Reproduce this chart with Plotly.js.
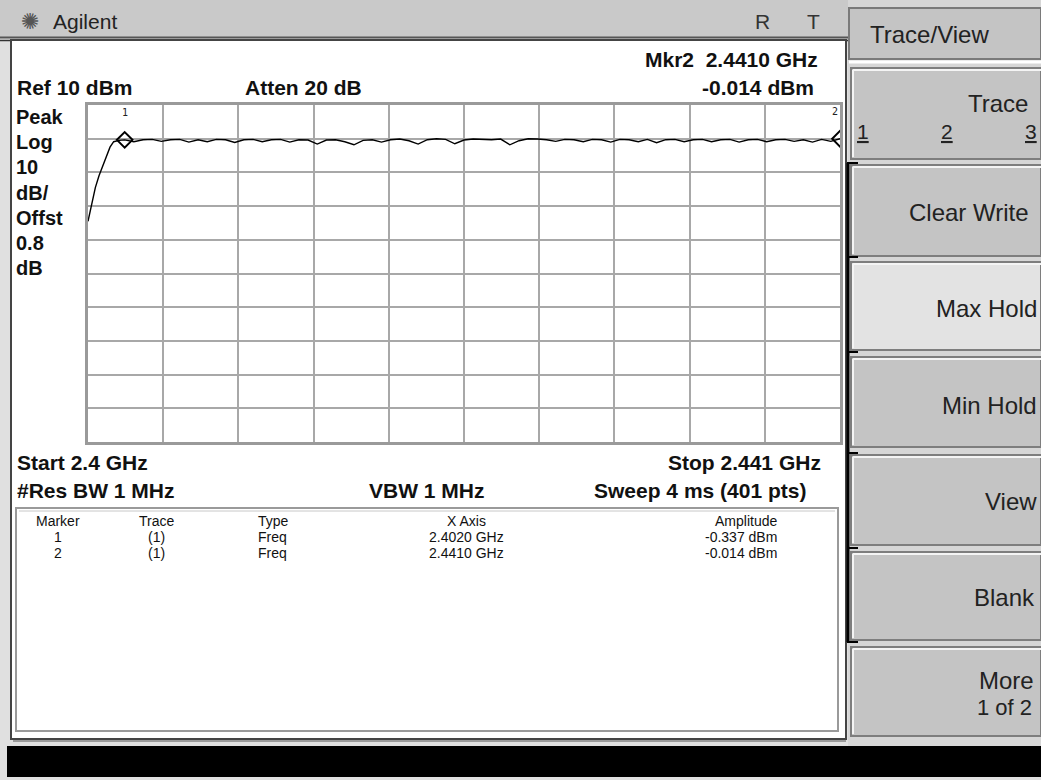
<!DOCTYPE html>
<html>
<head>
<meta charset="utf-8">
<script src="https://cdn.plot.ly/plotly-3.0.1.min.js"></script>
<style>
html,body{margin:0;padding:0;background:#e0e0e0;}
#chart{width:1041px;height:780px;}
</style>
</head>
<body>
<div id="chart"></div>
<script>
const freqGHz = [
  2.4000, 2.4002, 2.4004, 2.4006, 2.4008, 2.4010, 2.4012, 2.4014, 2.4017, 2.4020,
  2.4025, 2.4030, 2.4035, 2.4040, 2.4045, 2.4050, 2.4055, 2.4060, 2.4065, 2.4070,
  2.4075, 2.4080, 2.4085, 2.4090, 2.4095, 2.4100, 2.4105, 2.4110, 2.4115, 2.4120,
  2.4125, 2.4130, 2.4135, 2.4140, 2.4145, 2.4150, 2.4155, 2.4160, 2.4165, 2.4170,
  2.4175, 2.4180, 2.4185, 2.4190, 2.4195, 2.4200, 2.4205, 2.4210, 2.4215, 2.4220,
  2.4225, 2.4230, 2.4235, 2.4240, 2.4245, 2.4250, 2.4255, 2.4260, 2.4265, 2.4270,
  2.4275, 2.4280, 2.4285, 2.4290, 2.4295, 2.4300, 2.4305, 2.4310, 2.4315, 2.4320,
  2.4325, 2.4330, 2.4335, 2.4340, 2.4345, 2.4350, 2.4355, 2.4360, 2.4365, 2.4370,
  2.4375, 2.4380, 2.4385, 2.4390, 2.4395, 2.4400, 2.4405, 2.4410
];
const ampDbm = [
  -24.5, -19.0, -14.5, -11.0, -8.0, -5.0, -2.5, -0.9, -0.5, -0.337,
  -0.9, -0.3, -0.2, -0.8, -0.3, -0.2, -1.0, -0.3, -0.9, -0.2,
  -0.3, -1.1, -0.3, -0.2, -0.9, -0.3, -0.2, -1.0, -0.3, -0.4,
  -1.6, -0.4, -0.3, -0.9, -1.8, -0.5, -0.3, -1.0, -0.3, -0.1,
  -0.6, -1.6, -0.3, 0.0, -0.2, -1.5, -0.4, -0.1, -0.2, -0.3,
  -0.1, -1.8, -0.6, 0.0, -0.1, -0.3, -0.8, -0.2, -0.3, -0.9,
  -0.2, -0.3, -1.0, -0.2, -0.3, -0.9, -0.2, -1.2, -0.3, -0.2,
  -0.9, -0.3, -0.2, -0.9, -0.3, -0.2, -1.0, -0.3, -0.2, -0.9,
  -0.3, -0.2, -0.8, -0.3, -1.0, -0.2, -0.8, -0.014
];
const markerIds = ['1', '2'];
const markerFreq = [2.4020, 2.4410];
const markerAmp = [-0.337, -0.014];
const markerTrace = ['(1)', '(1)'];
const markerType = ['Freq', 'Freq'];
const markerXText = ['2.4020 GHz', '2.4410 GHz'];
const markerAmpText = ['-0.337 dBm', '-0.014 dBm'];
const startGHz = 2.4, stopGHz = 2.441;
const refLevel = 10, dbPerDiv = 10, divisions = 10;
const leftLabels = ['Peak', 'Log', '10', 'dB/', 'Offst', '0.8', 'dB'];
const softkeys = ['Clear Write', 'Max Hold', 'Min Hold', 'View', 'Blank'];

// ---- layout helpers (pixel -> paper) ----
const L = 88, R = 840, T = 105, B = 442, W = R - L, H = B - T;
const px = v => (v - L) / W;
const py = v => (B - v) / H;

const shapes = [];
const ann = [];
function rect(x0, y0, x1, y1, fill, line, lw, layer) {
  shapes.push({type: 'rect', xref: 'paper', yref: 'paper', x0: px(x0), x1: px(x1), y0: py(y1), y1: py(y0),
    fillcolor: fill, line: {color: line || 'rgba(0,0,0,0)', width: lw || 0}, layer: layer || 'below'});
}
function line(x0, y0, x1, y1, color, w) {
  shapes.push({type: 'line', xref: 'paper', yref: 'paper', x0: px(x0), x1: px(x1), y0: py(y0), y1: py(y1),
    line: {color: color, width: w}, layer: 'below'});
}
function text(t, x, y, opts) {
  opts = opts || {};
  ann.push({text: t, xref: 'paper', yref: 'paper', x: px(x), y: py(y), showarrow: false,
    xanchor: opts.xa || 'left', yanchor: 'middle',
    font: {family: opts.fam || 'Liberation Sans, Arial, sans-serif', size: opts.size || 16, color: opts.color || '#111'}});
}
const BOLDF = 'Liberation Sans, Arial, sans-serif';
const SKF = 'Liberation Sans, Arial, sans-serif';
const BS = 21;   // bold status text size
const SK = 24;   // softkey text size

// outer title bar
rect(0, 0, 848, 37, '#c9c9c9');
line(0, 37.5, 848, 37.5, '#555', 2);
line(0, 40.5, 848, 40.5, '#333', 1.5);
// main white panel
rect(11, 40, 846, 739, '#ffffff', '#444', 2);
line(13, 741, 846, 741, '#9a9a9a', 2);
// marker table box
rect(16, 508, 838, 731, '#ffffff', '#9a9a9a', 2);
line(19, 511, 835, 511, '#c8c8c8', 1);
// bottom black status bar
rect(7, 746, 1041, 777, '#000000');

// softkey panel
rect(848, 0, 1041, 746, '#d6d6d6');
rect(849, 8, 1041, 59, '#c4c4c4', '#7a7a7a', 2);
line(849, 62, 1041, 62, '#ffffff', 3);
const keyBoxes = [[851, 68, 1041, 159], [851, 165, 1041, 256], [851, 262, 1041, 350], [851, 357, 1041, 447],
  [851, 455, 1041, 545], [851, 552, 1041, 640], [851, 647, 1041, 736]];
keyBoxes.forEach((b, i) => {
  const fill = i === 2 ? '#e3e3e3' : '#c4c4c4';
  rect(b[0], b[1], b[2], b[3], fill, '#7e7e7e', 2);
  line(b[0] + 2, b[1] + 2, b[2], b[1] + 2, '#f4f4f4', 2);
  line(b[0] + 2, b[1] + 2, b[0] + 2, b[3] - 2, '#f4f4f4', 2);
});
// grouping bracket
line(848, 163, 848, 642, '#000', 3);
[163, 257, 352, 453, 548, 642].forEach(y => line(847, y, 858, y, '#000', 2));

// header texts
text('✺', 19, 21, {size: 22, color: '#555', fam: 'DejaVu Sans, sans-serif'});
text('Agilent', 51, 21, {size: 21, color: '#222', fam: SKF});
text('R', 753, 21, {size: 21, color: '#333', fam: SKF});
text('T', 805, 21, {size: 21, color: '#333', fam: SKF});
text('<b>Mkr2  2.4410 GHz</b>', 820, 60, {xa: 'right', size: BS, fam: BOLDF});
text('<b>-0.014 dBm</b>', 816, 88, {xa: 'right', size: BS, fam: BOLDF});
text('<b>Ref 10 dBm</b>', 15, 88, {size: BS, fam: BOLDF});
text('<b>Atten 20 dB</b>', 243, 88, {size: BS, fam: BOLDF});
leftLabels.forEach((t, i) => text('<b>' + t + '</b>', 14, 117 + i * 25.2, {size: 20, fam: BOLDF}));
text('<b>Start 2.4 GHz</b>', 15, 462, {size: BS, fam: BOLDF});
text('<b>Stop 2.441 GHz</b>', 823, 462, {xa: 'right', size: BS, fam: BOLDF});
text('<b>#Res BW 1 MHz</b>', 15, 490, {size: BS, fam: BOLDF});
text('<b>VBW 1 MHz</b>', 367, 490, {size: BS, fam: BOLDF});
text('<b>Sweep 4 ms (401 pts)</b>', 592, 490, {size: BS, fam: BOLDF});

// marker table
const TF = 'Liberation Sans, Arial, sans-serif';
const TS = 14;
text('Marker', 58, 521, {xa: 'center', size: TS, fam: TF});
text('Trace', 156, 521, {xa: 'center', size: TS, fam: TF});
text('Type', 256, 521, {size: TS, fam: TF});
text('X Axis', 466, 521, {xa: 'center', size: TS, fam: TF});
text('Amplitude', 746, 521, {xa: 'center', size: TS, fam: TF});
markerIds.forEach((m, i) => {
  const y = 537 + i * 16;
  text(m, 58, y, {xa: 'center', size: TS, fam: TF});
  text(markerTrace[i], 156, y, {xa: 'center', size: TS, fam: TF});
  text(markerType[i], 256, y, {size: TS, fam: TF});
  text(markerXText[i], 466, y, {xa: 'center', size: TS, fam: TF});
  text(markerAmpText[i], 703, y, {size: TS, fam: TF});
});

// marker number labels above the diamonds (placed through the data axes)
markerIds.forEach((m, i) => {
  ann.push({text: m, xref: 'x', yref: 'y', x: markerFreq[i], y: markerAmp[i], showarrow: false,
    xanchor: i === markerIds.length - 1 ? 'right' : 'center', yanchor: 'middle', yshift: 27,
    font: {family: 'DejaVu Sans Mono, monospace', size: 10, color: '#222'}});
});

// softkey labels
text('Trace/View', 868, 35, {size: SK, color: '#222', fam: SKF});
text('Trace', 1030, 103, {xa: 'right', size: SK, color: '#222', fam: SKF});
text('<u>1</u>', 855, 131, {size: 21, color: '#222', fam: SKF});
text('<u>2</u>', 947, 131, {xa: 'center', size: 21, color: '#222', fam: SKF});
text('<u>3</u>', 1039, 131, {xa: 'right', size: 21, color: '#222', fam: SKF});
const skY = [212, 308, 405, 501, 597];
const skX = [1031, 1039, 1039, 1039, 1037];
softkeys.forEach((k, i) => text(k, skX[i], skY[i], {xa: 'right', size: SK, color: '#222', fam: SKF}));
text('More', 1036, 680, {xa: 'right', size: SK, color: '#222', fam: SKF});
text('1 of 2', 1034, 707, {xa: 'right', size: 22, color: '#222', fam: SKF});

const traces = [
  {x: freqGHz, y: ampDbm, type: 'scatter', mode: 'lines', line: {color: '#000', width: 1.4}, hoverinfo: 'skip'},
  {x: markerFreq, y: markerAmp, type: 'scatter', mode: 'markers',
    marker: {symbol: 'diamond-open', size: 12, color: '#000', line: {width: 2, color: '#000'}}, hoverinfo: 'skip'}
];

const layout = {
  width: 1041, height: 780,
  margin: {l: L, r: 1041 - R, t: T, b: 780 - B, pad: 0},
  paper_bgcolor: '#e0e0e0', plot_bgcolor: '#ffffff',
  showlegend: false,
  xaxis: {range: [startGHz, stopGHz], tick0: startGHz, dtick: (stopGHz - startGHz) / divisions,
    showticklabels: false, ticks: '', showgrid: true, gridcolor: '#a8a8a8', gridwidth: 2,
    zeroline: false, showline: true, mirror: true, linecolor: '#9a9a9a', linewidth: 3, fixedrange: true},
  yaxis: {range: [refLevel - dbPerDiv * divisions, refLevel], tick0: refLevel, dtick: dbPerDiv,
    showticklabels: false, ticks: '', showgrid: true, gridcolor: '#a8a8a8', gridwidth: 2,
    zeroline: false, showline: true, mirror: true, linecolor: '#9a9a9a', linewidth: 3, fixedrange: true},
  shapes: shapes,
  annotations: ann
};

Plotly.newPlot('chart', traces, layout, {displayModeBar: false, staticPlot: true});
</script>
</body>
</html>
